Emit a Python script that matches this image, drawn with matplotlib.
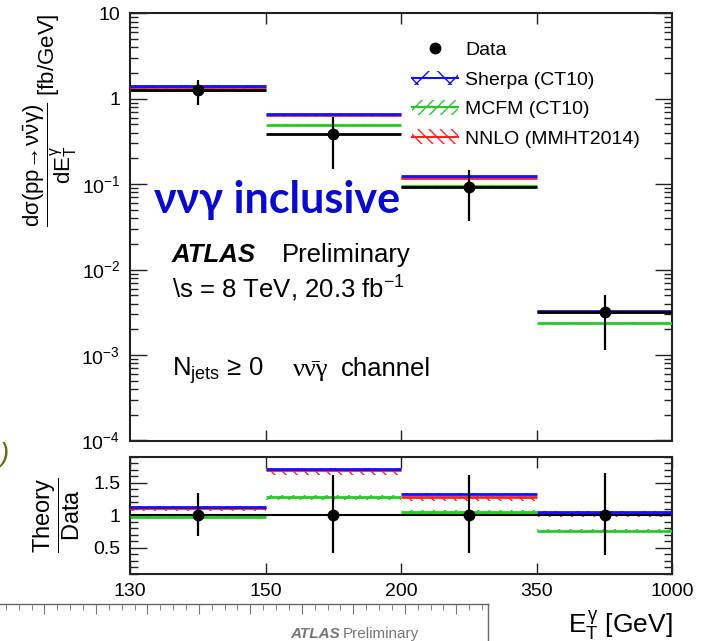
import numpy as np
import matplotlib
matplotlib.use("Agg")
import matplotlib.pyplot as plt
from matplotlib.patches import Patch
from matplotlib.lines import Line2D
from matplotlib.legend_handler import HandlerTuple
from matplotlib.ticker import FixedLocator, MultipleLocator, LogLocator, NullFormatter, FuncFormatter

plt.rcParams['font.family'] = ['Liberation Sans', 'DejaVu Sans']
plt.rcParams['mathtext.fontset'] = 'custom'
plt.rcParams['mathtext.rm'] = 'Liberation Sans'
plt.rcParams['mathtext.it'] = 'Liberation Sans'
plt.rcParams['mathtext.bf'] = 'Liberation Sans:bold'
plt.rcParams['mathtext.sf'] = 'Liberation Sans'
plt.rcParams['hatch.linewidth'] = 1.0

# photon E_T bins [GeV]
bin_edges = ["130", "150", "200", "350", "1000"]

# differential cross sections [fb/GeV]
data_xsec = [1.25, 0.39, 0.093, 0.0032]
data_up = [1.67, 0.61, 0.146, 0.0051]
data_down = [0.85, 0.152, 0.0374, 0.00116]
sherpa_xsec = [1.42, 0.66, 0.124, 0.00327]
mcfm_xsec = [1.28, 0.49, 0.094, 0.00236]
nnlo_xsec = [1.37, 0.645, 0.119, 0.00318]

# theory / data
sherpa_ratio = [1.13, 1.71, 1.32, 1.05]
mcfm_ratio = [0.975, 1.27, 1.05, 0.755]
nnlo_ratio = [1.11, 1.69, 1.27, 1.01]
data_ratio_up = [1.34, 1.61, 1.61, 1.64]
data_ratio_down = [0.67, 0.42, 0.42, 0.38]

# relative theory uncertainties (down, up)
sherpa_unc = (0.01, 0.01)
mcfm_unc = (0.03, 0.03)
nnlo_unc = (0.045, 0.0)

BLUE, GREEN, RED = "#1010FF", "#22CC22", "#FF2020"
theories = [
    ("Sherpa (CT10)", sherpa_xsec, sherpa_ratio, sherpa_unc, BLUE, "x"),
    ("MCFM (CT10)", mcfm_xsec, mcfm_ratio, mcfm_unc, GREEN, "///"),
    ("NNLO (MMHT2014)", nnlo_xsec, nnlo_ratio, nnlo_unc, RED, "\\\\\\"),
]
draw_order = [1, 2, 0]

nb = len(data_xsec)
lo_edge = np.arange(nb)
hi_edge = lo_edge + 1
centers = lo_edge + 0.5

W, H = 709, 641
fig = plt.figure(figsize=(W / 100, H / 100), dpi=100)
fig.patch.set_facecolor("white")

ax1 = fig.add_axes([130 / W, 1 - 440.5 / H, 542.3 / W, 427.2 / H])
ax2 = fig.add_axes([130 / W, 1 - 573.5 / H, 542.3 / W, 117.0 / H])


def draw_theory(ax, values, unc, color, hatch):
    for i in range(nb):
        v = values[i]
        ax.fill_between([lo_edge[i], hi_edge[i]], v * (1 - unc[0]), v * (1 + unc[1]),
                        facecolor="none", edgecolor=color, hatch=hatch, linewidth=0, zorder=2)
    ax.hlines(values, lo_edge, hi_edge, colors=color, linewidth=2.0, zorder=3)


# upper panel
for k in draw_order:
    name, xs, rs, unc, col, hatch = theories[k]
    draw_theory(ax1, xs, unc, col, hatch)

ax1.hlines(data_xsec, lo_edge, hi_edge, colors="black", linewidth=2.0, zorder=4)
ax1.vlines(centers, data_down, data_up, colors="black", linewidth=1.6, zorder=4)
ax1.plot(centers, data_xsec, "o", color="black", markersize=7.5, zorder=5)

ax1.set_yscale("log")
ax1.set_ylim(1e-4, 10)
ax1.set_xlim(0, nb)


def log_fmt(v, pos):
    e = int(round(np.log10(v)))
    if e == 1:
        return "10"
    if e == 0:
        return "1"
    return r"$10^{%d}$" % e


ax1.yaxis.set_major_locator(LogLocator(base=10, numticks=10))
ax1.yaxis.set_major_formatter(FuncFormatter(log_fmt))
ax1.yaxis.set_minor_locator(LogLocator(base=10, subs=np.arange(2, 10), numticks=20))
ax1.yaxis.set_minor_formatter(NullFormatter())
ax1.set_xticks(lo_edge[1:])
ax1.set_xticklabels([])

# ratio panel
for k in draw_order:
    name, xs, rs, unc, col, hatch = theories[k]
    draw_theory(ax2, rs, unc, col, hatch)

ax2.axhline(1.0, color="black", linewidth=1.5, zorder=4)
ax2.vlines(centers, data_ratio_down, data_ratio_up, colors="black", linewidth=1.6, zorder=4)
ax2.plot(centers, np.ones(nb), "o", color="black", markersize=7.5, zorder=5)
ax2.set_xlim(0, nb)
ax2.set_ylim(0.1, 1.9)
ax2.set_xticks(np.arange(nb + 1))
ax2.set_xticklabels(bin_edges)
ax2.yaxis.set_major_locator(FixedLocator([0.5, 1.0, 1.5]))
ax2.yaxis.set_major_formatter(FuncFormatter(lambda v, p: "%g" % v))
ax2.yaxis.set_minor_locator(MultipleLocator(0.1))

for ax in (ax1, ax2):
    for s in ax.spines.values():
        s.set_linewidth(1.5)
        s.set_color("#222222")
    ax.tick_params(axis="both", which="both", direction="in", top=True, right=True,
                   labelsize=14, width=1.0, color="#222222")
    ax.tick_params(axis="y", which="major", length=12, pad=7)
    ax.tick_params(axis="y", which="minor", length=6)
    ax.tick_params(axis="x", which="major", length=8, pad=7)
    ax.tick_params(axis="x", which="minor", length=0)

ax1.set_ylabel(r"$\dfrac{\mathrm{d}\sigma(\mathrm{pp}\!\rightarrow\!\nu\bar{\nu}\gamma)}{\mathrm{d}E_{T}^{\gamma}}$ [fb/GeV]",
               fontsize=16, loc="top", labelpad=2)
ax2.set_ylabel(r"$\dfrac{\mathrm{Theory}}{\mathrm{Data}}$", fontsize=17, labelpad=8)
ax2.set_xlabel(r"$E_{T}^{\gamma}$ [GeV]", fontsize=19, loc="right", labelpad=6)

# legend
handles = [Line2D([], [], marker="o", color="black", linestyle="none", markersize=7.5)]
labels = ["Data"]
for name, xs, rs, unc, col, hatch in theories:
    handles.append((Patch(facecolor="none", edgecolor=col, hatch=hatch, linewidth=0),
                    Line2D([], [], color=col, linewidth=1.5)))
    labels.append(name)
ax1.legend(handles, labels, loc="upper left", bbox_to_anchor=(0.52, 0.935), frameon=False,
           fontsize=14, handlelength=2.35, handleheight=0.8, handletextpad=0.4,
           labelspacing=0.58, borderpad=0, borderaxespad=0,
           handler_map={tuple: HandlerTuple(ndivide=1, pad=0)})

# annotations
ax1.text(0.045, 0.5325, "ννγ inclusive", transform=ax1.transAxes, fontsize=31,
         fontweight="bold", family=["Lato", "DejaVu Sans"], color="#0A0ACC", va="baseline")
ax1.text(0.0775, 0.4185, "ATLAS", transform=ax1.transAxes, fontsize=18.5,
         fontweight="bold", fontstyle="italic", va="baseline")
ax1.text(0.2803, 0.4185, "Preliminary", transform=ax1.transAxes, fontsize=18.5, va="baseline")
ax1.text(0.0775, 0.3336, r"\s = 8 TeV, 20.3 fb$^{-1}$", transform=ax1.transAxes,
         fontsize=18.5, va="baseline")
ax1.text(0.0775, 0.151, r"N$_{\mathrm{jets}}$ ≥ 0", transform=ax1.transAxes,
         fontsize=18.5, va="baseline")
ax1.text(0.3006, 0.151, "νν\u0304γ", transform=ax1.transAxes,
         fontsize=19, va="baseline", family=["Liberation Serif", "DejaVu Serif"])
ax1.text(0.389, 0.151, "channel", transform=ax1.transAxes, fontsize=18.5, va="baseline")

# neighbouring slide content at the edges
axb = fig.add_axes([-0.01, -0.5, 488 / W + 0.01, 0.5 + (1 - 604 / H)])
axb.set_xlim(0, 500)
axb.set_ylim(0, 1)
for side in ("left", "bottom"):
    axb.spines[side].set_visible(False)
for side in ("top", "right"):
    axb.spines[side].set_color("#666666")
    axb.spines[side].set_linewidth(1.0)
axb.xaxis.set_major_locator(MultipleLocator(52))
axb.xaxis.set_minor_locator(MultipleLocator(13))
axb.tick_params(axis="x", which="both", top=True, bottom=False, labeltop=False,
                labelbottom=False, direction="in", color="#777777")
axb.tick_params(axis="x", which="major", length=7)
axb.tick_params(axis="x", which="minor", length=4)
axb.set_yticks([])
fig.text(290 / W, 1 - 627 / H, "ATLAS", fontsize=11, fontweight="bold", fontstyle="italic",
         color="#777777", va="top")
fig.text(343 / W, 1 - 627 / H, "Preliminary", fontsize=11, color="#777777", va="top")
fig.text(0.0, 1 - 455 / H, ")", fontsize=20, fontstyle="italic", color="#6B6B23", va="center")

fig.savefig("out.png", dpi=100)
